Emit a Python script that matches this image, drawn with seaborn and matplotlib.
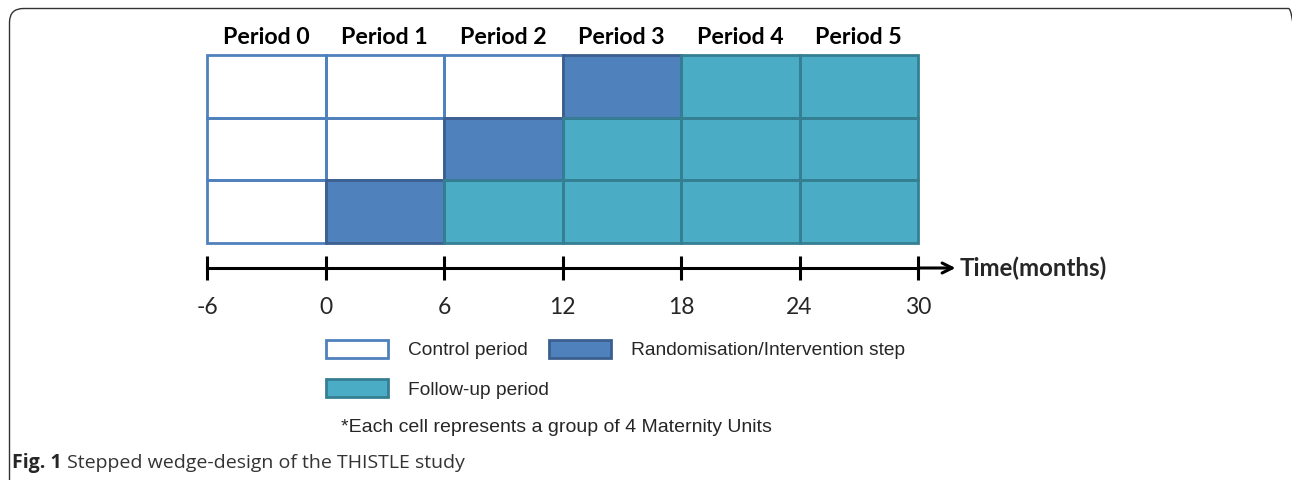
import numpy as np
import matplotlib
matplotlib.use("Agg")
import matplotlib.pyplot as plt
import seaborn as sns
from matplotlib.colors import ListedColormap
from matplotlib.patches import Rectangle, Patch, FancyBboxPatch

sns.set_theme(style="white")

# dati
periods = ["Period 0", "Period 1", "Period 2", "Period 3", "Period 4", "Period 5"]
step_period = [3, 2, 1]          # periodo di randomizzazione per ogni riga (dall'alto)
months = [-6, 0, 6, 12, 18, 24, 30]
state_names = ["Control period", "Randomisation/Intervention step", "Follow-up period"]
fill_colors = ["#FFFFFF", "#4F81BD", "#4BACC6"]
edge_colors = ["#4F81BD", "#3B5F8E", "#357F93"]
footnote = "*Each cell represents a group of 4 Maternity Units"
caption_bold = "Fig. 1"
caption_rest = " Stepped wedge-design of the THISTLE study"

# matrice degli stati: 0 controllo, 1 randomizzazione, 2 follow-up
states = np.array([[0 if j < s else (1 if j == s else 2) for j in range(len(periods))]
                   for s in step_period])

W, H = 1292, 480
fig = plt.figure(figsize=(W / 100, H / 100), dpi=100)
fig.patch.set_facecolor("white")

# cornice arrotondata (aperta in basso e a destra)
frame = FancyBboxPatch((0.095, -0.5), 12.93, 5.215,
                       boxstyle="round,pad=0,rounding_size=0.14",
                       transform=fig.dpi_scale_trans, fill=False,
                       edgecolor="#333333", linewidth=1.0)
fig.patches.append(frame)

# griglia
gx0, gx1, gy0, gy1 = 207, 918, 55, 243
ax = fig.add_axes([gx0 / W, 1 - gy1 / H, (gx1 - gx0) / W, (gy1 - gy0) / H])
sns.heatmap(states, cmap=ListedColormap(fill_colors), vmin=-0.5, vmax=2.5,
            cbar=False, linewidths=0, xticklabels=False, yticklabels=False, ax=ax)
for st in range(3):
    for i, j in zip(*np.where(states == st)):
        ax.add_patch(Rectangle((j, i), 1, 1, fill=False, edgecolor=edge_colors[st],
                               linewidth=2.0, clip_on=False, zorder=3 + st))
for j, name in enumerate(periods):
    ax.text(j + 0.5, -0.28, name, ha="center", va="center", fontsize=16.7,
            fontweight="bold", family="Lato", color="black")

# asse temporale
ty = 268
axt = fig.add_axes([gx0 / W, 1 - ty / H, (gx1 - gx0) / W, 0.05])
axt.set_xlim(months[0], months[-1])
axt.set_ylim(0, 1)
for s in ["top", "left", "right"]:
    axt.spines[s].set_visible(False)
axt.spines["bottom"].set_linewidth(2.2)
axt.spines["bottom"].set_color("black")
axt.patch.set_alpha(0)
axt.set_yticks([])
axt.set_xticks(months)
axt.set_xticklabels([str(m) for m in months], family="Lato", fontsize=16.5)
axt.tick_params(axis="x", direction="inout", length=17, width=2.2, color="black",
                pad=12.5, bottom=True)
axt.annotate("", xy=(31.9, 0), xytext=(30, 0), xycoords=("data", "axes fraction"),
             arrowprops=dict(arrowstyle="->", lw=2.2, color="black",
                             shrinkA=0, shrinkB=0, mutation_scale=18),
             annotation_clip=False)
axt.text(32.1, 0, "Time(months)", ha="left", va="center", fontsize=17.3,
         fontweight="bold", family="Lato", transform=axt.get_xaxis_transform(),
         clip_on=False)

# legenda
handles = [Patch(facecolor=fill_colors[k], edgecolor=edge_colors[k], linewidth=2.0)
           for k in range(3)]
order = [0, 2, 1]
leg = fig.legend([handles[k] for k in order], [state_names[k] for k in order],
                 loc="upper left", bbox_to_anchor=(326 / W, 1 - 340 / H), ncol=2,
                 frameon=False, prop={"family": "Liberation Sans", "size": 13.75},
                 handlelength=3.25, handleheight=1.05, handletextpad=1.05,
                 labelspacing=1.05, columnspacing=0.0, borderpad=0, borderaxespad=0)

fig.text(341 / W, 1 - 428 / H, footnote, ha="left", va="center",
         family="Liberation Sans", fontsize=14)

# didascalia
t1 = fig.text(12 / W, 1 - 463 / H, caption_bold, ha="left", va="center",
              family="Open Sans", fontweight="bold", fontsize=14)
ax.annotate(caption_rest, xy=(1, 0.5), xycoords=t1, ha="left", va="center",
            family="Open Sans", fontsize=14, color="#333333", annotation_clip=False)

fig.savefig("out.png", dpi=100, facecolor="white")
